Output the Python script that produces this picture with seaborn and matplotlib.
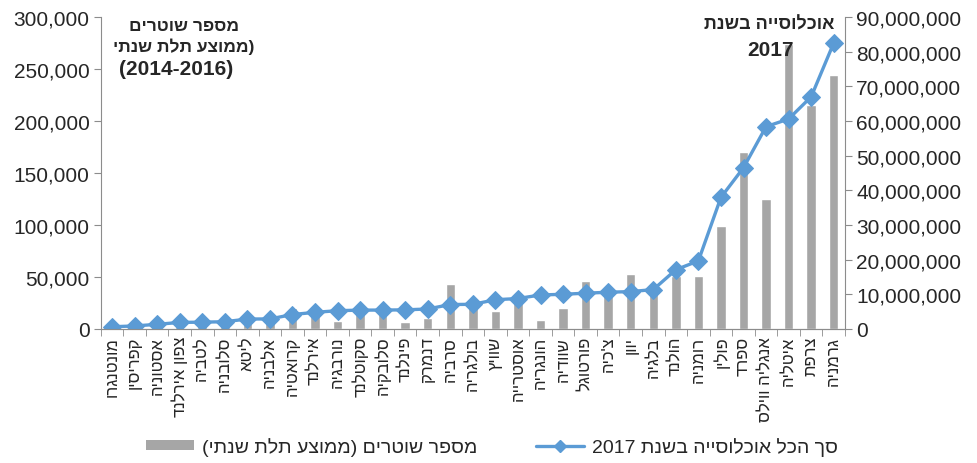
import re
import numpy as np
import pandas as pd
import seaborn as sns
from matplotlib import pyplot as plt
from matplotlib.lines import Line2D
from matplotlib.patches import Patch
from matplotlib.ticker import FuncFormatter, FixedLocator


def heb(s):
    # matplotlib has no bidi: flip to visual order, keep numbers, mirror parens
    out = s[::-1]
    out = re.sub(r'[0-9][0-9\-]*[0-9]|[0-9]', lambda m: m.group(0)[::-1], out)
    return out.translate(str.maketrans('()', ')('))


countries = ['מונטנגרו', 'קפריסין', 'אסטוניה', 'צפון אירלנד', 'לטביה', 'סלובניה',
             'ליטא', 'אלבניה', 'קרואטיה', 'אירלנד', 'נורבגיה', 'סקוטלנד', 'סלובקיה',
             'פינלנד', 'דנמרק', 'סרביה', 'בולגריה', 'שוויץ', 'אוסטרייה', 'הונגריה',
             'שוודיה', 'פורטוגל', "צ'כיה", 'יוון', 'בלגיה', 'הולנד', 'רומניה', 'פולין',
             'ספרד', 'אנגליה ווילס', 'איטליה', 'צרפת', 'גרמניה']

# police officers, 3-year average 2014-2016 (left axis)
police = [4500, 5000, 3500, 6800, 7500, 7700, 9000, 10000, 20200, 14400, 8000,
          17600, 16000, 7000, 10600, 43000, 27000, 17600, 30000, 8700, 19900,
          46500, 39000, 52600, 37000, 50600, 50600, 99400, 170500, 125000,
          274000, 215000, 244000]

# total population 2017 (right axis)
population = [0.62e6, 0.85e6, 1.32e6, 1.87e6, 1.95e6, 2.07e6, 2.85e6, 2.88e6,
              4.15e6, 4.78e6, 5.26e6, 5.42e6, 5.44e6, 5.50e6, 5.75e6, 7.04e6,
              7.10e6, 8.42e6, 8.77e6, 9.80e6, 9.99e6, 10.31e6, 10.58e6, 10.77e6,
              11.35e6, 17.08e6, 19.64e6, 37.97e6, 46.53e6, 58.38e6, 60.59e6,
              67.0e6, 82.52e6]

bar_label = 'מספר שוטרים (ממוצע תלת שנתי)'
line_label = 'סך הכל אוכלוסייה בשנת 2017'

df = pd.DataFrame({'country': [heb(c) for c in countries],
                   'police': police, 'population': population})
df['pos'] = np.arange(len(df))

sns.set_style('white')
plt.rcParams['font.family'] = ['Liberation Sans', 'DejaVu Sans']

bar_color = '#a6a6a6'
line_color = '#5b9bd5'
axis_color = '#8c8c8c'

fig = plt.figure(figsize=(9.78, 4.64), dpi=100)
ax = fig.add_axes([0.103, 0.289, 0.761, 0.672])

sns.barplot(data=df, x='country', y='police', color=bar_color, width=0.42,
            saturation=1, ax=ax)
ax.set_xlim(-0.5, len(df) - 0.5)
ax.set_ylim(0, 300000)
ax.set_yticks(np.arange(0, 300001, 50000))
ax.yaxis.set_major_formatter(FuncFormatter(lambda v, p: f'{int(v):,}'))
ax.set_xlabel('')
ax.set_ylabel('')
ax.tick_params(axis='y', labelsize=15, length=5, color=axis_color, direction='out', left=True, pad=3)
ax.tick_params(axis='x', which='major', length=0, labelsize=12, pad=5)
ax.set_xticks(df['pos'])
ax.set_xticklabels(df['country'], rotation=90)
ax.xaxis.set_minor_locator(FixedLocator(np.arange(-0.5, len(df), 1)))
ax.tick_params(axis='x', which='minor', length=5, color=axis_color, direction='out', bottom=True)

ax2 = ax.twinx()
sns.lineplot(data=df, x='pos', y='population', color=line_color, linewidth=2.4,
             marker='D', markersize=9, markeredgecolor=line_color, ax=ax2)
ax2.set_ylim(0, 90000000)
ax2.set_yticks(np.arange(0, 90000001, 10000000))
ax2.yaxis.set_major_formatter(FuncFormatter(lambda v, p: f'{int(v):,}'))
ax2.set_ylabel('')
ax2.set_xlabel('')
ax2.tick_params(axis='y', labelsize=15, length=5, color=axis_color, direction='out', right=True, pad=3)

for a in (ax, ax2):
    a.spines['top'].set_visible(False)
    for s in ('left', 'right', 'bottom'):
        a.spines[s].set_color(axis_color)
        a.spines[s].set_linewidth(0.8)
ax2.spines['left'].set_visible(False)
ax.spines['right'].set_visible(False)

# axis titles
fig.text(0.188, 0.943, heb('מספר שוטרים'), ha='center', va='center', fontsize=12.5, fontweight='bold')
fig.text(0.188, 0.900, heb('(ממוצע תלת שנתי'), ha='center', va='center', fontsize=12.5, fontweight='bold')
fig.text(0.180, 0.850, '(2014-2016)', ha='center', va='center', fontsize=15, fontweight='bold')
fig.text(0.787, 0.946, heb('אוכלוסייה בשנת'), ha='center', va='center', fontsize=13, fontweight='bold')
fig.text(0.788, 0.892, '2017', ha='center', va='center', fontsize=15, fontweight='bold')

handles = [Patch(facecolor=bar_color, edgecolor='none'),
           Line2D([], [], color=line_color, linewidth=2.4, marker='D', markersize=6)]
fig.legend(handles, [heb(bar_label), heb(line_label)], loc='center', ncol=2,
           bbox_to_anchor=(0.503, 0.036), frameon=False, fontsize=14,
           handlelength=2.5, handleheight=0.45, columnspacing=3.0, handletextpad=0.4)

fig.savefig('out.png', dpi=100)
